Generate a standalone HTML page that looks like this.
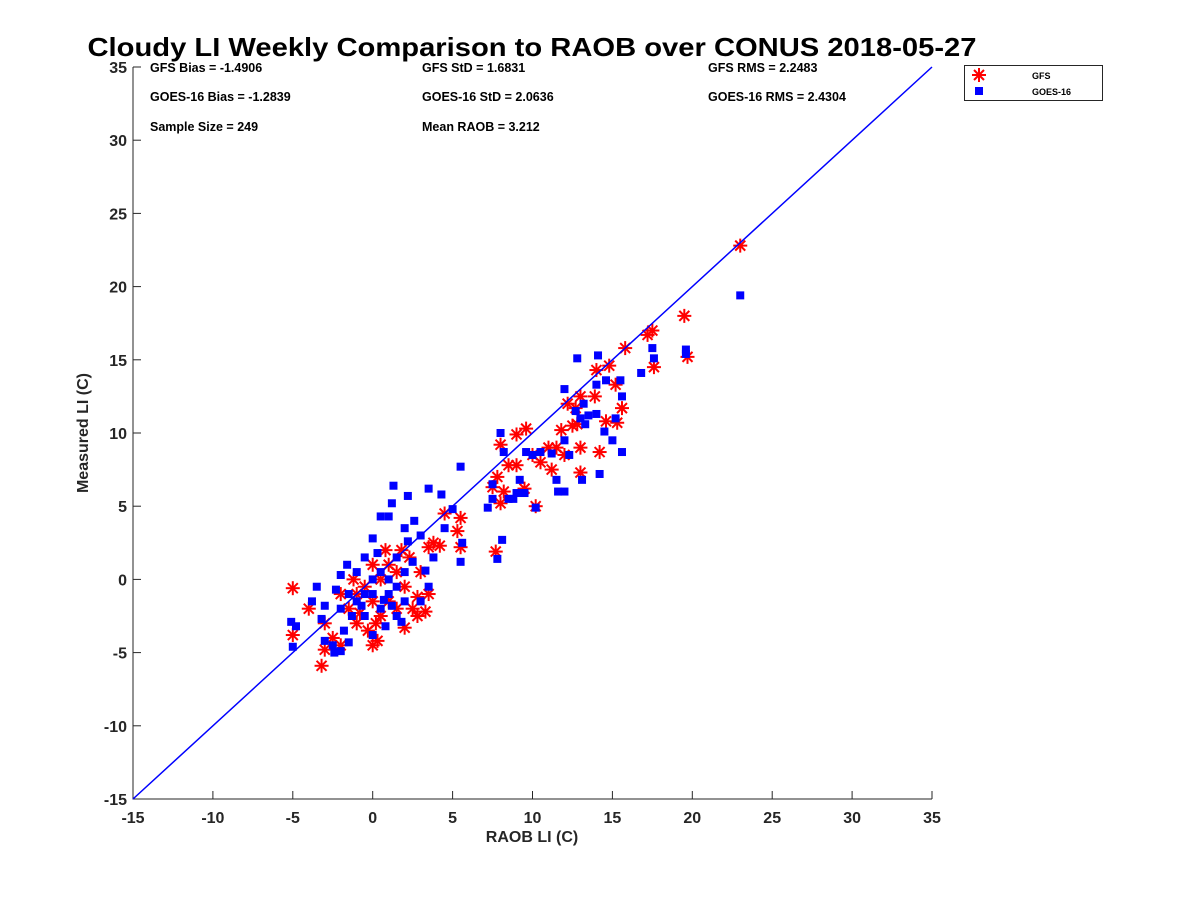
<!DOCTYPE html>
<html><head><meta charset="utf-8"><style>
body{margin:0;background:#fff}
svg text{font-family:"Liberation Sans","DejaVu Sans",sans-serif;font-weight:bold;fill:#262626}
</style></head><body>
<svg id="chart" width="1200" height="900" xmlns="http://www.w3.org/2000/svg">
<rect width="1200" height="900" fill="#fff"/>
<text x="532" y="56" text-anchor="middle" font-size="26" textLength="889" lengthAdjust="spacingAndGlyphs" style="fill:#000">Cloudy LI Weekly Comparison to RAOB over CONUS 2018-05-27</text>
<g font-size="12.5">
<text x="150" y="72" style="fill:#000">GFS Bias = -1.4906</text>
<text x="150" y="101" style="fill:#000">GOES-16 Bias = -1.2839</text>
<text x="150" y="131" style="fill:#000">Sample Size = 249</text>
<text x="422" y="72" style="fill:#000">GFS StD = 1.6831</text>
<text x="422" y="101" style="fill:#000">GOES-16 StD = 2.0636</text>
<text x="422" y="131" style="fill:#000">Mean RAOB = 3.212</text>
<text x="708" y="72" style="fill:#000">GFS RMS = 2.2483</text>
<text x="708" y="101" style="fill:#000">GOES-16 RMS = 2.4304</text>
</g>
<g id="axes"></g>
<g id="marks"></g>
<g>
<rect x="964.5" y="65.5" width="138" height="35" fill="#fff" stroke="#262626" stroke-width="1"/>
<g stroke="#f00" stroke-width="2">
<line x1="972" y1="75" x2="986" y2="75"/><line x1="979" y1="68" x2="979" y2="82"/><line x1="974" y1="70" x2="984" y2="80"/><line x1="974" y1="80" x2="984" y2="70"/></g>
<text x="1032" y="79" font-size="9" style="fill:#000">GFS</text>
<rect x="975" y="87" width="8" height="8" fill="#00f"/>
<text x="1032" y="95" font-size="9" style="fill:#000">GOES-16</text>
</g>
</svg>
<script>
const xTicks=[-15,-10,-5,0,5,10,15,20,25,30,35];
const yTicks=[-15,-10,-5,0,5,10,15,20,25,30,35];
const gfsX=[23,19.5,19.7,17.5,17.2,17.6,15.8,15.6,15.3,14.2,14.6,14,14.8,15.2,13.9,13,12.7,12.2,12.5,11.8,11.5,11,12,13,13,12.8,10.5,11.2,10,9.6,9,8,8.5,9,7.5,7.8,8.2,9.5,10.2,8,7.7,5.5,5.3,5.5,4.5,3.5,3.8,4.2,3,2.8,3.5,2.5,2,1.5,0,0.3,-0.3,-1,-2,-2.5,-3.2,-3,-4,-5,-5,-3,-1.5,-1,0,0.5,1,1.5,2,0.8,0,-0.5,-2,1,0.5,2.3,1.8,-1.2,0.2,-0.8,2.8,3.3];
const gfsY=[22.8,18,15.2,17,16.7,14.5,15.8,11.7,10.7,8.7,10.8,14.3,14.6,13.3,12.5,12.5,11.7,12,10.5,10.2,9,9,8.5,9,7.3,10.6,8,7.5,8.5,10.3,9.9,9.2,7.8,7.8,6.3,7,6,6.2,5,5.2,1.9,4.2,3.3,2.2,4.5,2.2,2.5,2.3,0.5,-2.5,-1,-2,-3.3,-2,-4.5,-4.2,-3.5,-3,-4.5,-4,-5.9,-4.8,-2,-0.6,-3.8,-3,-2,-1,-1.5,0,1,0.5,-0.5,2,1,-0.5,-1,-1.5,-2.5,1.5,2,0,-3,-2.3,-1.2,-2.2];
const goesX=[23,19.6,19.6,17.5,17.6,16.8,15.5,15.6,15.2,15.6,15,14.5,14.2,14,14.6,14.1,12.8,12,12.7,13,13.5,13.3,14,13.2,12,12.3,13.1,12,11.6,11.5,11.2,10.5,10,9.6,9.5,9,9.2,8.2,8,8.5,8.8,7.5,7.2,7.5,10.2,7.8,8.1,5.5,5.5,5.6,5,4.3,3.5,4.5,3.8,3.5,2.2,1.3,1.2,0.5,1,2.6,2.2,2,3,2.5,3.3,2,3,1.5,0,-0.5,-1.6,-2,-2.3,-3,-3.2,-3.5,-3,-2.5,-2,-2.4,-1.5,-3.8,-4.8,-5.1,-5,-1.3,-1,-0.5,0,0.5,1,1.5,-0.5,0.5,1,0,0.8,-1.5,0.3,1.5,2,-1,-2,0,0.7,1.2,-0.7,1.8,-1.8];
const goesY=[19.4,15.7,15.4,15.8,15.1,14.1,13.6,12.5,11,8.7,9.5,10.1,7.2,13.3,13.6,15.3,15.1,13,11.5,11,11.2,10.6,11.3,12,9.5,8.5,6.8,6,6,6.8,8.6,8.7,8.5,8.7,5.9,5.9,6.8,8.7,10,5.5,5.5,6.5,4.9,5.5,4.9,1.4,2.7,7.7,1.2,2.5,4.8,5.8,6.2,3.5,1.5,-0.5,5.7,6.4,5.2,4.3,4.3,4,2.6,3.5,3,1.2,0.6,-1.5,-1.5,-2.5,2.8,1.5,1,0.3,-0.7,-1.8,-2.7,-0.5,-4.2,-4.5,-4.9,-5,-4.3,-1.5,-3.2,-2.9,-4.6,-2.5,-1.5,-1,0,0.5,0,1.5,-2.5,-2,-1,-3.8,-3.2,-1,1.8,-0.5,0.5,0.5,-2,-1,-1.4,-1.8,-1.8,-2.9,-3.5];
const L=133,R=932,T=67,B=799;
const sx=v=>L+(v+15)/50*(R-L);
const sy=v=>B-(v+15)/50*(B-T);
const NS="http://www.w3.org/2000/svg";
function mk(tag,attrs,parent){const e=document.createElementNS(NS,tag);for(const k in attrs)e.setAttribute(k,attrs[k]);parent.appendChild(e);return e;}
const axes=document.getElementById('axes'),marks=document.getElementById('marks');
const xa=mk('path',{d:`M${L},${T}V${B}H${R}`,fill:'none',stroke:'#262626','stroke-width':1},axes);


xTicks.forEach(v=>{
 mk('line',{x1:sx(v),x2:sx(v),y1:B,y2:B-8,stroke:'#262626'},axes);
 const t=mk('text',{x:sx(v),y:B+24,'text-anchor':'middle','font-size':16},axes);t.textContent=v;
 
 
});
yTicks.forEach(v=>{
 mk('line',{x1:L,x2:L+8,y1:sy(v),y2:sy(v),stroke:'#262626'},axes);
 const t=mk('text',{x:L-6,y:sy(v)+6,'text-anchor':'end','font-size':16},axes);t.textContent=v;
 
 
});
const xl=mk('text',{x:532,y:842,'text-anchor':'middle','font-size':16},axes);xl.textContent='RAOB LI (C)';


const yl=mk('text',{x:88,y:433,'text-anchor':'middle','font-size':16,transform:'rotate(-90 88 433)'},axes);yl.textContent='Measured LI (C)';


gfsX.forEach((x,i)=>{
 const cx=sx(x),cy=sy(gfsY[i]);
 const g=mk('g',{stroke:'#f00','stroke-width':2},marks);
 
 
 mk('line',{x1:cx-7,y1:cy,x2:cx+7,y2:cy},g);mk('line',{x1:cx,y1:cy-7,x2:cx,y2:cy+7},g);
 mk('line',{x1:cx-5,y1:cy-5,x2:cx+5,y2:cy+5},g);mk('line',{x1:cx-5,y1:cy+5,x2:cx+5,y2:cy-5},g);
});
goesX.forEach((x,i)=>{
 const r=mk('rect',{x:sx(x)-4,y:sy(goesY[i])-4,width:8,height:8,fill:'#00f'},marks);
 
 
});
const ln=mk('line',{x1:sx(-15),y1:sy(-15),x2:sx(35),y2:sy(35),stroke:'#00f','stroke-width':1.5},marks);


</script>
</body></html>
